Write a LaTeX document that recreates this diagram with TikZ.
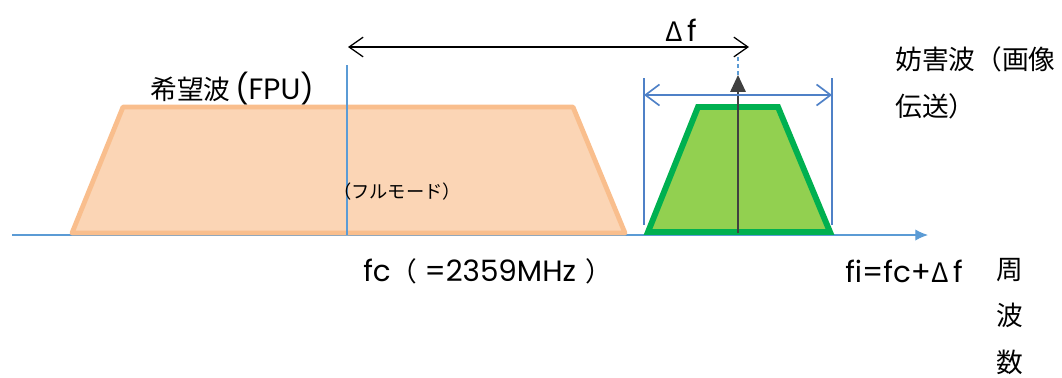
\documentclass[tikz,border=0pt]{standalone}
\usepackage{fontspec}
\setmainfont{Noto Sans CJK JP}
\newfontfamily\latn[Scale=1.1]{Poppins}
\usetikzlibrary{arrows.meta,positioning}
\definecolor{axisblue}{HTML}{5B9BD5}
\definecolor{dimblue}{HTML}{4F81C7}
\definecolor{wantfill}{HTML}{FBD5B5}
\definecolor{wantedge}{HTML}{F9BE8D}
\definecolor{jamfill}{HTML}{92D050}
\definecolor{jamedge}{HTML}{00B050}
\definecolor{markgray}{HTML}{404040}
\tikzset{
  txt/.style={inner sep=0pt, font=\fontsize{19}{22}\selectfont},
  smalltxt/.style={inner sep=0pt, font=\fontsize{13}{16}\selectfont},
  axis/.style={axisblue, line width=0.9pt, -{Latex[length=9pt,width=8pt]}},
  guide/.style={axisblue, line width=0.8pt},
  wantband/.style={draw=wantedge, fill=wantfill, line width=3.4pt, line join=round},
  jamband/.style={draw=jamedge, fill=jamfill, line width=4.2pt, line join=miter},
  dimarrow/.style={{Straight Barb[length=10pt,width=14pt]}-{Straight Barb[length=10pt,width=14pt]}, line width=0.9pt},
  bwarrow/.style={dimblue, line width=1.2pt, {Straight Barb[length=10pt,width=15pt]}-{Straight Barb[length=10pt,width=15pt]}},
  bwline/.style={dimblue, line width=1.2pt},
  carrier/.style={markgray, line width=0.9pt, -{Triangle[length=12pt,width=11pt]}},
}
\begin{document}
\begin{tikzpicture}[x=0.025cm, y=-0.025cm]
  \useasboundingbox (0,0) rectangle (1062,377);

  % frequency axis
  \coordinate (ax0) at (12,235);
  \coordinate (ax1) at (928,235);
  \draw[axis] (ax0) -- (ax1);

  % desired wave (FPU)
  \draw[wantband] (72,233) -- (123,107) -- (573,107) -- (625,233) -- cycle;
  \coordinate (fctop) at (347,65);
  \coordinate (fcbot) at (347,235);
  \draw[guide] (fctop) -- (fcbot);

  % interfering wave
  \draw[jamband] (648,232) -- (698,107) -- (778,107) -- (830,232) -- cycle;
  \coordinate (fibot) at (738,233);
  \coordinate (fitop) at (738,75);
  \coordinate (fidash) at (738,55);
  \draw[carrier] (fibot) -- (fitop);
  \draw[axisblue, line width=0.8pt, dashed, dash pattern=on 3pt off 2pt] (fitop) -- (fidash);

  % bandwidth marks
  \coordinate (bwl0) at (644,78);
  \coordinate (bwl1) at (644,225);
  \coordinate (bwr0) at (832,78);
  \coordinate (bwr1) at (832,225);
  \draw[bwline] (bwl0) -- (bwl1);
  \draw[bwline] (bwr0) -- (bwr1);
  \coordinate (bwl) at (644,95);
  \coordinate (bwr) at (832,95);
  \draw[bwarrow] (bwl) -- (bwr);

  % offset
  \coordinate (dfl) at (348,47);
  \coordinate (dfr) at (749,47);
  \draw[dimarrow] (dfl) -- (dfr);
  \node[txt] (df) at (681,30) {Δ\,\latn f};

  % labels
  \node[txt, anchor=west] (want) at (150,89) {希望波{\latn\,(FPU)}};
  \node[smalltxt] (mode) at (397,192) {（フルモード）};
  \node[txt, anchor=west] (fc) at (363,271) {{\latn fc}（\hspace{5pt}{\latn =2359MHz}\hspace{7pt}）};
  \node[txt, anchor=west] (fi) at (845,271) {{\latn fi=fc+}Δ\,{\latn f}};
  \node[txt, anchor=west, align=left, font=\fontsize{19}{33}\selectfont] (jam) at (895,83) {妨害波（画像\\伝送）};
  \node[txt, anchor=north, align=center, font=\fontsize{19}{33}\selectfont] (freq) at (1010,258) {周\\波\\数};
\end{tikzpicture}
\end{document}
